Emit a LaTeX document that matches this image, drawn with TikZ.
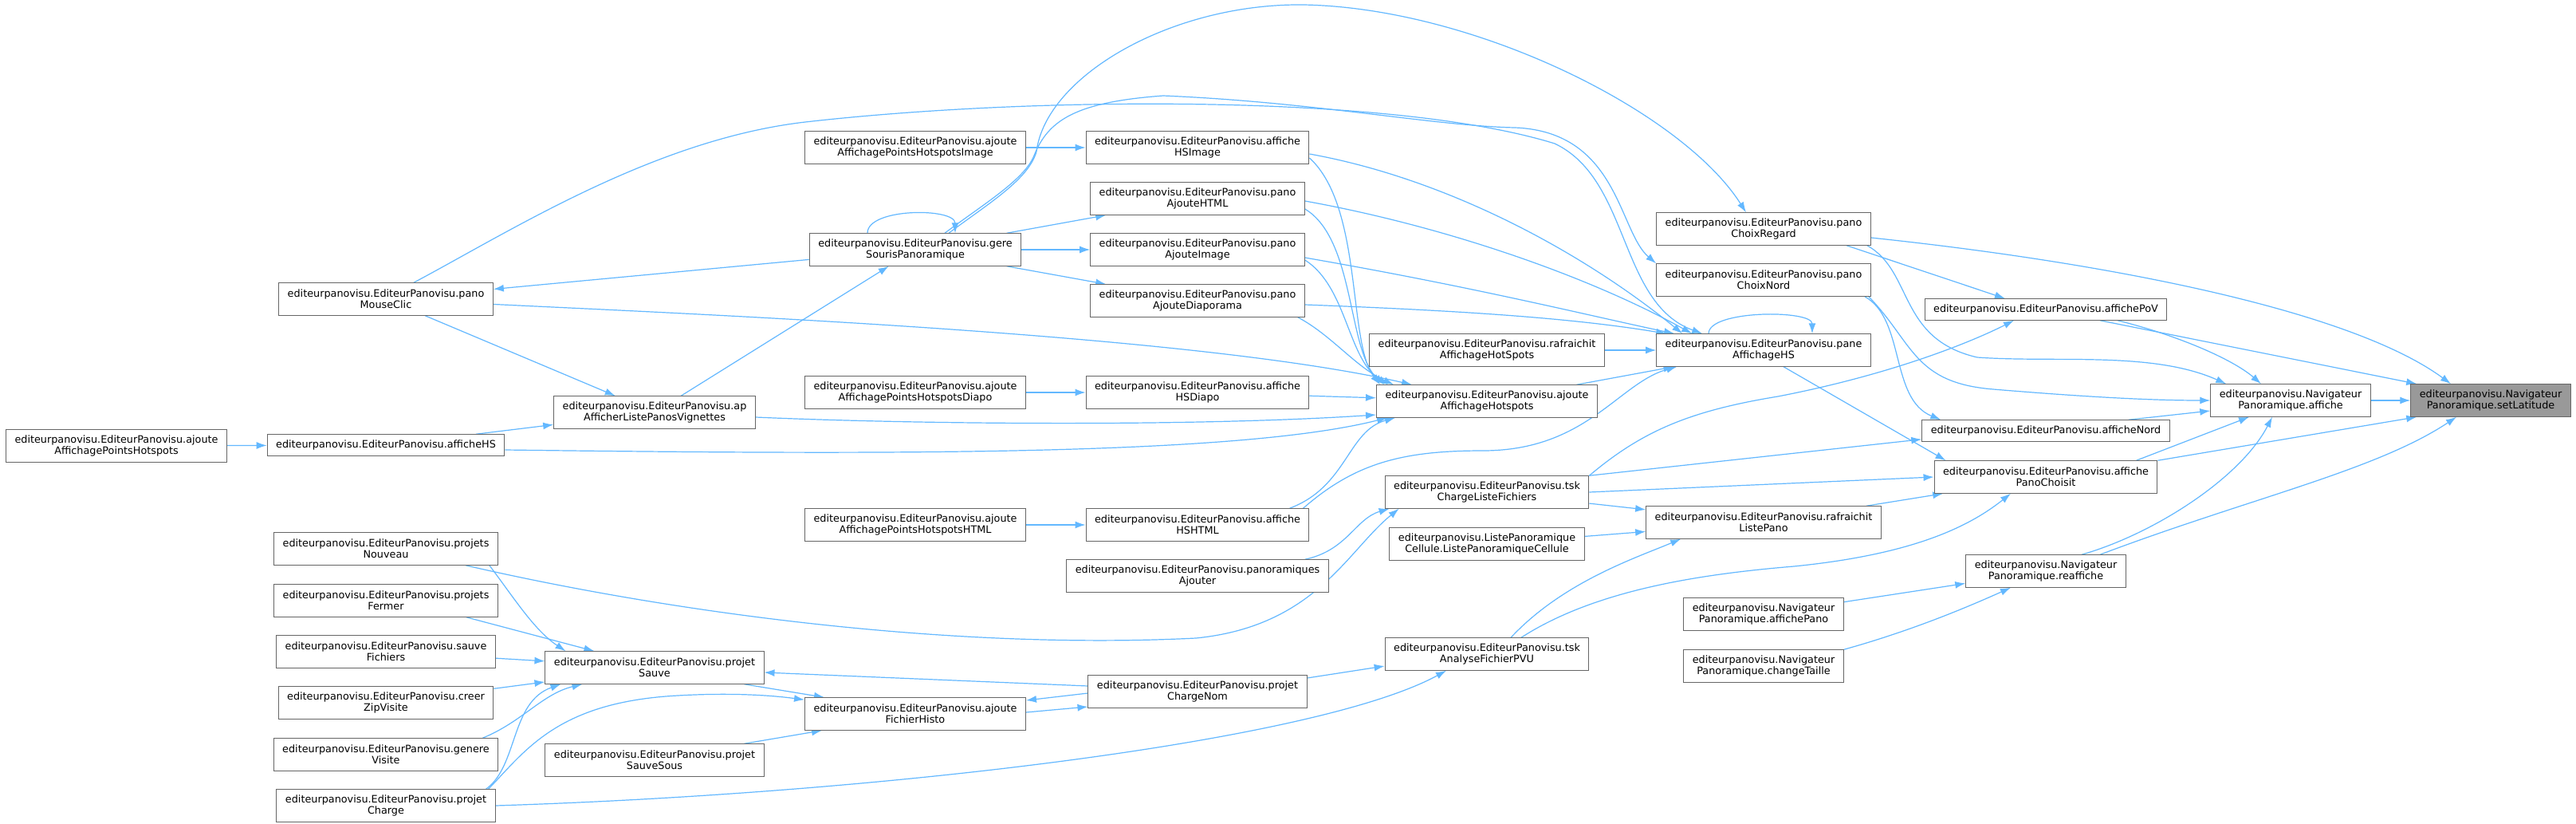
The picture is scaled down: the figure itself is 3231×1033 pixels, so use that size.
\documentclass[tikz,border=0pt]{standalone}
\usepackage{fontspec}
\setmainfont{DejaVu Sans}
\usepackage{xcolor, tikz}
\usetikzlibrary{arrows.meta}
\definecolor{edgeblue}{HTML}{63B8FF}
\definecolor{boxgray}{HTML}{666666}
\definecolor{rootgray}{HTML}{999999}
\pgfdeclarelayer{foreground}
\pgfsetlayers{main,foreground}

\begin{document}
\begin{tikzpicture}[x=1pt, y=1pt,
    node style/.style={
        draw=boxgray, fill=white, line width=1pt,
        align=center, inner xsep=11pt, inner ysep=3pt,
        minimum height=26.5pt,
        font=\fontsize{12.8pt}{14.3pt}\selectfont
    },
    tall style/.style={node style, minimum height=40.5pt},
    root style/.style={tall style, fill=rootgray},
    call edge/.style={edgeblue, line width=1.2pt, -{Latex[length=13pt,width=9pt]}}
]
	\path[use as bounding box, fill=white] (0,0) rectangle (3231,-1033);
	\begin{pgfonlayer}{foreground}
				\node[tall style] (ajPts) at (146,-559) {editeurpanovisu.EditeurPanovisu.ajoute\\AffichagePointsHotspots};
				\node[tall style] (mouseClic) at (484,-375) {editeurpanovisu.EditeurPanovisu.pano\\MouseClic};
				\node[node style] (affHS) at (484,-558) {editeurpanovisu.EditeurPanovisu.afficheHS};
				\node[tall style] (nouveau) at (484,-688) {editeurpanovisu.EditeurPanovisu.projets\\Nouveau};
				\node[tall style] (fermer) at (484,-753) {editeurpanovisu.EditeurPanovisu.projets\\Fermer};
				\node[tall style] (sauveFich) at (484,-817) {editeurpanovisu.EditeurPanovisu.sauve\\Fichiers};
				\node[tall style] (zip) at (484,-881) {editeurpanovisu.EditeurPanovisu.creer\\ZipVisite};
				\node[tall style] (genere) at (484,-946) {editeurpanovisu.EditeurPanovisu.genere\\Visite};
				\node[tall style] (charge) at (484,-1010) {editeurpanovisu.EditeurPanovisu.projet\\Charge};
				\node[tall style] (ap) at (821,-517) {editeurpanovisu.EditeurPanovisu.ap\\AfficherListePanosVignettes};
				\node[tall style] (sauve) at (821,-837) {editeurpanovisu.EditeurPanovisu.projet\\Sauve};
				\node[tall style] (sauveSous) at (821,-953) {editeurpanovisu.EditeurPanovisu.projet\\SauveSous};
				\node[tall style] (ptsImage) at (1148,-185) {editeurpanovisu.EditeurPanovisu.ajoute\\AffichagePointsHotspotsImage};
				\node[tall style] (gere) at (1148,-313) {editeurpanovisu.EditeurPanovisu.gere\\SourisPanoramique};
				\node[tall style] (ptsDiapo) at (1148,-492) {editeurpanovisu.EditeurPanovisu.ajoute\\AffichagePointsHotspotsDiapo};
				\node[tall style] (ptsHTML) at (1148,-658) {editeurpanovisu.EditeurPanovisu.ajoute\\AffichagePointsHotspotsHTML};
				\node[tall style] (histo) at (1148,-895) {editeurpanovisu.EditeurPanovisu.ajoute\\FichierHisto};
				\node[tall style] (hsImage) at (1502,-185) {editeurpanovisu.EditeurPanovisu.affiche\\HSImage};
				\node[tall style] (ajHTML) at (1502,-249) {editeurpanovisu.EditeurPanovisu.pano\\AjouteHTML};
				\node[tall style] (ajImage) at (1502,-313) {editeurpanovisu.EditeurPanovisu.pano\\AjouteImage};
				\node[tall style] (ajDiapo) at (1502,-377) {editeurpanovisu.EditeurPanovisu.pano\\AjouteDiaporama};
				\node[tall style] (hsDiapo) at (1502,-492) {editeurpanovisu.EditeurPanovisu.affiche\\HSDiapo};
				\node[tall style] (hsHTML) at (1502,-658) {editeurpanovisu.EditeurPanovisu.affiche\\HSHTML};
				\node[tall style] (panosAj) at (1502,-722) {editeurpanovisu.EditeurPanovisu.panoramiques\\Ajouter};
				\node[tall style] (chargeNom) at (1502,-867) {editeurpanovisu.EditeurPanovisu.projet\\ChargeNom};
				\node[tall style] (rafHS) at (1865,-439) {editeurpanovisu.EditeurPanovisu.rafraichit\\AffichageHotSpots};
				\node[tall style] (ajHotspots) at (1865,-503) {editeurpanovisu.EditeurPanovisu.ajoute\\AffichageHotspots};
				\node[tall style] (tskCharge) at (1865,-617) {editeurpanovisu.EditeurPanovisu.tsk\\ChargeListeFichiers};
				\node[tall style] (listeCell) at (1865,-682) {editeurpanovisu.ListePanoramique\\Cellule.ListePanoramiqueCellule};
				\node[tall style] (tskAnalyse) at (1865,-820) {editeurpanovisu.EditeurPanovisu.tsk\\AnalyseFichierPVU};
				\node[tall style] (choixRegard) at (2212,-287) {editeurpanovisu.EditeurPanovisu.pano\\ChoixRegard};
				\node[tall style] (choixNord) at (2212,-351) {editeurpanovisu.EditeurPanovisu.pano\\ChoixNord};
				\node[tall style] (paneHS) at (2212,-439) {editeurpanovisu.EditeurPanovisu.pane\\AffichageHS};
				\node[tall style] (rafListe) at (2212,-655) {editeurpanovisu.EditeurPanovisu.rafraichit\\ListePano};
				\node[tall style] (affPano) at (2212,-770) {editeurpanovisu.Navigateur\\Panoramique.affichePano};
				\node[tall style] (changeTaille) at (2212,-835) {editeurpanovisu.Navigateur\\Panoramique.changeTaille};
				\node[node style] (pov) at (2566,-388) {editeurpanovisu.EditeurPanovisu.affichePoV};
				\node[node style] (nord) at (2566,-540) {editeurpanovisu.EditeurPanovisu.afficheNord};
				\node[tall style] (panoChoisit) at (2566,-598) {editeurpanovisu.EditeurPanovisu.affiche\\PanoChoisit};
				\node[tall style] (reaffiche) at (2566,-716) {editeurpanovisu.Navigateur\\Panoramique.reaffiche};
				\node[tall style] (affiche) at (2873,-502) {editeurpanovisu.Navigateur\\Panoramique.affiche};
				\node[root style] (setLat) at (3124,-502) {editeurpanovisu.Navigateur\\Panoramique.setLatitude};
	\end{pgfonlayer}

				\draw[call edge] (ajPts) -- (affHS);
				\draw[call edge] (affHS) -- (ap);
				\draw[call edge] (mouseClic) -- (ap);
				\draw[call edge] (gere) -- (mouseClic);
				\draw[call edge] (ap) -- (gere);
				\draw[call edge] (mouseClic) .. controls (900,-395) and (1500,-420) .. ([xshift=45pt]ajHotspots.north west);
				\draw[call edge] ([xshift=35pt]mouseClic.north) .. controls (640,-290) and (820,-175) .. (1010,-153)
					.. controls (1300,-120) and (1750,-118) .. (1950,-180)
					.. controls (2045,-225) and (2030,-380) .. ([xshift=58pt]paneHS.north west);
				\draw[call edge] ([xshift=-60pt]gere.north) .. controls +(0,32) and +(0,32) .. ([xshift=50pt]gere.north);
				\draw[call edge] ([xshift=42pt]gere.north) .. controls (1240,-255) and (1290,-225) .. (1300,-190)
					.. controls (1312,-95) and (1470,-4) .. (1635,-6)
					.. controls (1850,-10) and (2110,-140) .. ([xshift=-22pt]choixRegard.north);
				\draw[call edge] ([xshift=37pt]gere.north) .. controls (1235,-255) and (1285,-225) .. (1297,-195)
					.. controls (1315,-150) and (1350,-128) .. (1459,-120)
					.. controls (1650,-128) and (1800,-158) .. (1900,-160)
					.. controls (2030,-165) and (2030,-290) .. (choixNord.north west);
				\draw[call edge] (gere) -- (ajHTML);
				\draw[call edge] (gere) -- (ajImage);
				\draw[call edge] (gere) -- (ajDiapo);
				\draw[call edge] (ptsImage) -- (hsImage);
				\draw[call edge] (ptsDiapo) -- (hsDiapo);
				\draw[call edge] (ptsHTML) -- (hsHTML);

				\draw[call edge] ([yshift=-13pt]hsImage.east) .. controls (1710,-260) and (1690,-430) .. ([xshift=5pt]ajHotspots.north west);
				\draw[call edge] ([yshift=-13pt]ajHTML.east) .. controls (1700,-300) and (1690,-440) .. ([xshift=10pt]ajHotspots.north west);
				\draw[call edge] ([yshift=-13pt]ajImage.east) .. controls (1690,-360) and (1690,-450) .. ([xshift=15pt]ajHotspots.north west);
				\draw[call edge] ([xshift=-9pt]ajDiapo.south east) .. controls (1670,-420) and (1700,-460) .. ([xshift=22pt]ajHotspots.north west);
				\draw[call edge] (hsDiapo) -- (ajHotspots);
				\draw[call edge] ([yshift=-6pt]ap.east) .. controls (1150,-532) and (1500,-535) .. ([yshift=-17pt]ajHotspots.west);
				\draw[call edge] ([yshift=-6pt]affHS.east) .. controls (1100,-570) and (1550,-572) .. ([xshift=14pt]ajHotspots.south west);
				\draw[call edge] ([xshift=-25pt]hsHTML.north east) .. controls (1690,-610) and (1690,-540) .. ([xshift=24pt]ajHotspots.south west);

				\draw[call edge] ([yshift=-8pt]hsImage.east) .. controls (1820,-225) and (1990,-320) .. ([xshift=33pt]paneHS.north west);
				\draw[call edge] ([yshift=-3pt]ajHTML.east) .. controls (1820,-285) and (2000,-350) .. ([xshift=45pt]paneHS.north west);
				\draw[call edge] ([yshift=-10pt]ajImage.east) .. controls (1850,-360) and (1990,-395) .. ([xshift=23pt]paneHS.north west);
				\draw[call edge] ([yshift=-5pt]ajDiapo.east) .. controls (1850,-390) and (1980,-400) .. ([xshift=13pt]paneHS.north west);
				\draw[call edge] (rafHS) -- (paneHS);
				\draw[call edge] (ajHotspots) -- (paneHS);
				\draw[call edge] ([xshift=-8pt]hsHTML.north east) .. controls (1700,-580) and (1760,-565) .. (1860,-565)
					.. controls (1990,-565) and (2030,-480) .. ([xshift=26pt]paneHS.south west);
				\draw[call edge] ([xshift=-69pt]paneHS.north) .. controls +(0,30) and +(0,30) .. ([xshift=61pt]paneHS.north);

				\draw[call edge] ([xshift=-30pt]panosAj.north east) .. controls (1690,-690) and (1700,-650) .. ([xshift=6pt]tskCharge.south west);
				\draw[call edge] ([xshift=100pt]nouveau.south) .. controls (850,-770) and (1200,-815) .. (1500,-800)
					.. controls (1650,-785) and (1690,-690) .. ([xshift=18pt]tskCharge.south west);
				\draw[call edge] (tskCharge) -- (rafListe);
				\draw[call edge] (listeCell) -- (rafListe);
				\draw[call edge] (tskCharge.north east) -- ([yshift=3pt]nord.south west);
				\draw[call edge] (tskCharge.east) -- (panoChoisit.west);
				\draw[call edge] (tskCharge.north east) .. controls (2060,-540) and (2120,-515) .. (2230,-497)
					.. controls (2370,-470) and (2470,-430) .. ([xshift=-40pt]pov.south);
				\draw[call edge] ([xshift=30pt]tskAnalyse.north) .. controls (1960,-730) and (2050,-700) .. ([xshift=44pt]rafListe.south west);
				\draw[call edge] ([xshift=43pt]tskAnalyse.north) .. controls (2000,-740) and (2130,-720) .. (2250,-710)
					.. controls (2400,-695) and (2470,-660) .. ([xshift=-44pt]panoChoisit.south);
				\draw[call edge] (rafListe) -- (panoChoisit);
				\draw[call edge] ([xshift=25pt]paneHS.south) -- ([xshift=15pt]panoChoisit.north west);

				\draw[call edge] ([yshift=-11pt]choixRegard.east) .. controls (2650,-330) and (2950,-390) .. ([xshift=-50pt]setLat.north);
				\draw[call edge] ([xshift=104pt]choixRegard.south) -- ([xshift=-51pt]pov.north);
				\draw[call edge] ([xshift=-5pt]choixRegard.south east) .. controls (2400,-340) and (2380,-425) .. (2480,-448)
					.. controls (2580,-455) and (2700,-440) .. ([xshift=20pt]affiche.north west);
				\draw[call edge] ([xshift=-8pt]choixNord.south east) .. controls (2390,-400) and (2370,-500) .. ([xshift=24pt]nord.north west);
				\draw[call edge] ([xshift=-3pt]choixNord.south east) .. controls (2400,-430) and (2400,-480) .. (2500,-488)
					.. controls (2620,-498) and (2700,-502) .. (affiche.west);
				\draw[call edge] ([xshift=90pt]pov.south) .. controls (2730,-420) and (2800,-450) .. ([xshift=-37pt]affiche.north);
				\draw[call edge] ([xshift=68pt]pov.south) -- ([xshift=8pt]setLat.north west);
				\draw[call edge] ([xshift=-52pt]nord.north east) -- ([yshift=-13pt]affiche.west);
				\draw[call edge] ([xshift=-27pt]panoChoisit.north east) -- ([xshift=-52pt]affiche.south);
				\draw[call edge] (panoChoisit.north east) -- ([xshift=8pt]setLat.south west);
				\draw[call edge] ([xshift=45pt]reaffiche.north) .. controls (2700,-670) and (2810,-600) .. ([xshift=-23pt]affiche.south);
				\draw[call edge] ([xshift=68pt]reaffiche.north) .. controls (2820,-625) and (2980,-590) .. ([xshift=-43pt]setLat.south);
				\draw[call edge] (affiche) -- (setLat);
				\draw[call edge] (affPano) -- (reaffiche);
				\draw[call edge] (changeTaille.north east) .. controls (2400,-790) and (2470,-760) .. ([xshift=-44pt]reaffiche.south);

				\draw[call edge] ([xshift=-11pt]nouveau.south east) .. controls (645,-750) and (670,-790) .. ([xshift=26pt]sauve.north west);
				\draw[call edge] ([xshift=-40pt]fermer.south east) -- ([xshift=62pt]sauve.north west);
				\draw[call edge] (sauveFich) -- (sauve);
				\draw[call edge] (zip) -- (sauve);
				\draw[call edge] ([xshift=-20pt]genere.north east) .. controls (655,-905) and (680,-870) .. ([xshift=47pt]sauve.south west);
				\draw[call edge] ([xshift=-12pt]charge.north east) .. controls (650,-960) and (640,-880) .. ([xshift=20pt]sauve.south west);
				\draw[call edge] ([xshift=-9pt]charge.north east) .. controls (660,-940) and (700,-880) .. (850,-872)
					.. controls (920,-868) and (970,-872) .. ([yshift=-3pt]histo.north west);
				\draw[call edge] ([xshift=-25pt]sauve.south east) -- ([xshift=25pt]histo.north west);
				\draw[call edge] ([xshift=-25pt]sauveSous.north east) -- ([xshift=22pt]histo.south west);
				\draw[call edge] ([yshift=7pt]chargeNom.west) -- ([yshift=-6pt]sauve.east);
				\draw[call edge] ([yshift=-2pt]chargeNom.west) -- ([yshift=17pt]histo.east);
				\draw[call edge] ([yshift=2pt]histo.east) -- ([yshift=-19pt]chargeNom.west);
				\draw[call edge] ([yshift=17pt]chargeNom.east) -- ([yshift=-15pt]tskAnalyse.west);
				\draw[call edge] (charge.east) .. controls (1100,-995) and (1650,-930) .. ([xshift=-51pt]tskAnalyse.south);
\end{tikzpicture}
\end{document}
